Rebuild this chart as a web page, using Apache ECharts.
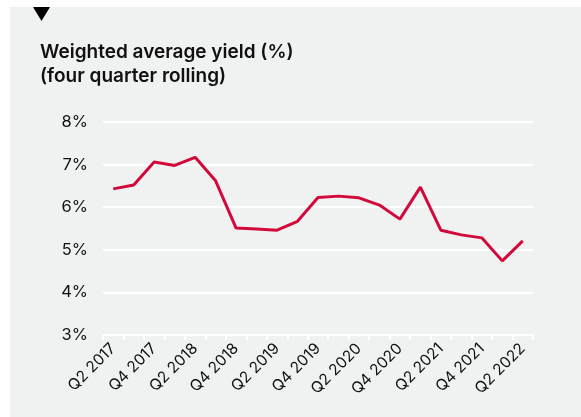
<!DOCTYPE html>
<html>
<head>
<meta charset="utf-8">
<script src="https://cdn.jsdelivr.net/npm/echarts@6/dist/echarts.min.js"></script>
<style>
  html, body { margin: 0; padding: 0; background: #ffffff; }
  #chart { width: 581px; height: 417px; }
</style>
</head>
<body>
<div id="chart"></div>
<script>
// Quarterly periods, Q2 2017 through Q2 2022
const quarters = [
  'Q2 2017', 'Q3 2017', 'Q4 2017', 'Q1 2018', 'Q2 2018', 'Q3 2018', 'Q4 2018',
  'Q1 2019', 'Q2 2019', 'Q3 2019', 'Q4 2019', 'Q1 2020', 'Q2 2020', 'Q3 2020',
  'Q4 2020', 'Q1 2021', 'Q2 2021', 'Q3 2021', 'Q4 2021', 'Q1 2022', 'Q2 2022'
];

// Weighted average yield, four quarter rolling (%)
const yieldPct = [
  6.43, 6.52, 7.06, 6.98, 7.17, 6.62, 5.51,
  5.49, 5.46, 5.67, 6.23, 6.26, 6.22, 6.05,
  5.72, 6.47, 5.46, 5.35, 5.28, 4.74, 5.21
];

const yTicks = { min: 3, max: 8, step: 1 };

const titleLines = ['Weighted average yield (%)', '(four quarter rolling)'];

const chart = echarts.init(document.getElementById('chart'), null, { renderer: 'canvas' });

const fontFamily = 'Inter, "Liberation Sans", Arial, sans-serif';

chart.setOption({
  animation: false,
  backgroundColor: '#ffffff',
  graphic: [
    {
      type: 'rect',
      z: -10,
      shape: { x: 10, y: 7, width: 571, height: 410 },
      style: { fill: '#eff2f1' }
    },
    {
      type: 'polygon',
      z: 10,
      shape: { points: [[33, 7], [50, 7], [41.5, 21]] },
      style: { fill: '#000000' }
    }
  ],
  title: {
    text: titleLines.join('\n'),
    left: 35,
    top: 35,
    textStyle: {
      fontFamily: fontFamily,
      fontSize: 19,
      fontWeight: 600,
      lineHeight: 24,
      color: '#111111'
    }
  },
  grid: {
    left: 103,
    right: 48,
    top: 122,
    bottom: 82,
    containLabel: false
  },
  xAxis: {
    type: 'category',
    data: quarters,
    boundaryGap: true,
    axisLine: { show: true, lineStyle: { color: '#ffffff', width: 2 } },
    axisTick: { show: true, interval: 0, length: 5, lineStyle: { color: '#ffffff', width: 2 } },
    axisLabel: {
      interval: 1,
      rotate: 45,
      margin: 11,
      fontFamily: fontFamily,
      fontSize: 15.5,
      color: '#111111'
    },
    splitLine: { show: false }
  },
  yAxis: {
    type: 'value',
    min: yTicks.min,
    max: yTicks.max,
    interval: yTicks.step,
    axisLine: { show: false },
    axisTick: { show: false },
    axisLabel: {
      formatter: '{value}%',
      margin: 15,
      fontFamily: fontFamily,
      fontSize: 16.5,
      color: '#111111'
    },
    splitLine: { show: true, lineStyle: { color: '#ffffff', width: 2 } }
  },
  series: [
    {
      type: 'line',
      data: yieldPct,
      symbol: 'none',
      smooth: false,
      lineStyle: { color: '#d20a3c', width: 3 },
      z: 5
    }
  ]
});
</script>
</body>
</html>
